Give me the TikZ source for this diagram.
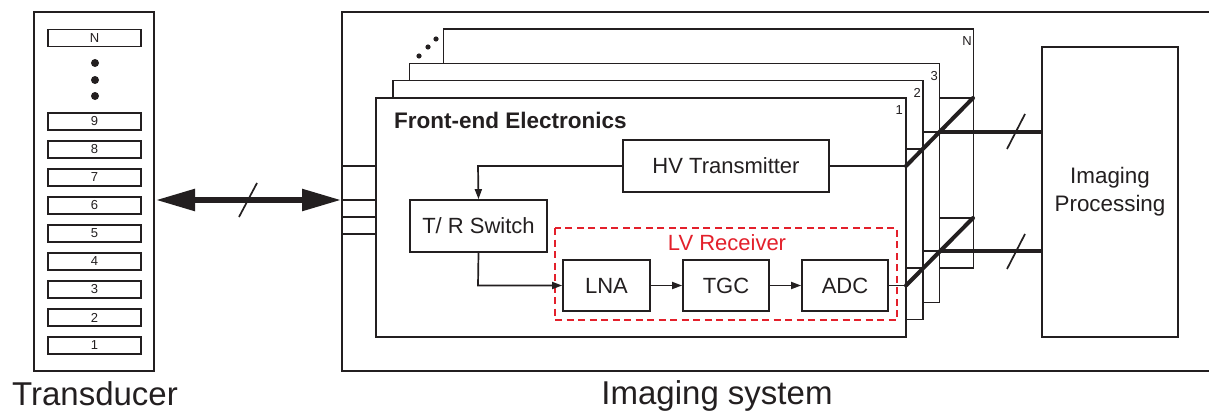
\documentclass[tikz,border=0pt]{standalone}
\usepackage{fontspec}
\setmainfont{Liberation Sans}
\usetikzlibrary{arrows.meta}
\definecolor{ink}{HTML}{231F20}
\definecolor{lvred}{HTML}{E3202B}
\begin{document}
\begin{tikzpicture}[x=1pt,y=-1pt,
  thin line/.style={draw=ink,line width=1.7pt},
  thick line/.style={draw=ink,line width=4pt},
  box/.style={draw=ink,line width=1.7pt,fill=white,inner sep=0pt,
    font=\fontsize{22}{26}\selectfont,text=ink},
  elem/.style={draw=ink,line width=1.7pt,minimum width=93pt,minimum height=17pt,
    inner sep=0pt,font=\fontsize{13}{14}\selectfont,text=ink},
  board/.style={draw=ink,line width=1.7pt,fill=white,minimum width=530pt,
    minimum height=239pt,inner sep=0pt},
  blabel/.style={font=\fontsize{13}{14}\selectfont,text=ink,anchor=north east,inner sep=0pt},
  sig/.style={draw=ink,line width=1.7pt,-{Triangle[length=10pt,width=7pt]}},
  big label/.style={font=\fontsize{33}{38}\selectfont,text=ink,anchor=base,inner sep=0pt}
]
\useasboundingbox (0,0) rectangle (1209,412);
\fill[white] (0,0) rectangle (1209,412);

% Transducer
\node[draw=ink,line width=1.7pt,minimum width=120pt,minimum height=359pt,inner sep=0pt] (trans) at (94,191.5) {};
\node[elem] (eN) at (94.5,38) {N};
\foreach \k in {1,...,9}{
  \node[elem] (e\k) at (94.5,{345.5-28*(\k-1)}) {\k};
}
\foreach \yy in {63,80,96}{ \fill[ink] (95,\yy) circle (4pt); }
\node[big label] (translabel) at (95,405) {Transducer};

% Imaging system
\node[draw=ink,line width=1.7pt,minimum width=868pt,minimum height=359pt,inner sep=0pt] (sys) at (776,191.5) {};
\node[big label] (syslabel) at (717,404) {Imaging system};

% double arrow
\coordinate (aL) at (156,200);
\coordinate (aR) at (341,200);
\draw[draw=ink,line width=5.5pt,{Triangle[length=39pt,width=21pt]}-{Triangle[length=39pt,width=21pt]}] (aL) -- (aR);
\coordinate (s1a) at (239,217); \coordinate (s1b) at (257,183);
\draw[thin line] (s1a) -- (s1b);

% left stubs
\foreach \yy in {166,200,217,234}{ \draw[thin line] (342,\yy) -- (376,\yy); }

% boards
\node[board] (bN) at (708.5,148.5) {};
\node[board] (b3) at (674.5,183) {};
\node[board] (b2) at (658,200) {};
\node[board] (b1) at (641,217.5) {};
\node[blabel] (lN) at (972,36) {N};
\node[blabel] (l3) at (938,71) {3};
\node[blabel] (l2) at (921,88) {2};
\node[blabel] (l1) at (903,105) {1};
\foreach \p in {(419,56),(428,47),(436,39)}{ \fill[ink] \p circle (2.6pt); }

\node[anchor=base west,inner sep=0pt,font=\fontsize{22.5}{26}\selectfont\bfseries,text=ink] (fe) at (394,128) {Front-end Electronics};

% blocks
\node[box,minimum width=206pt,minimum height=52pt] (hv) at (726,166) {HV Transmitter};
\node[box,minimum width=137pt,minimum height=52pt] (tr) at (478.5,226) {T/ R Switch};
\draw[draw=lvred,line width=1.7pt,dash pattern=on 7pt off 4.5pt] (555,228) rectangle (897,320);
\node[font=\fontsize{22}{26}\selectfont,text=lvred,inner sep=0pt] (lv) at (727,243) {LV Receiver};
\node[box,minimum width=87pt,minimum height=51pt] (lna) at (606.5,285.5) {LNA};
\node[box,minimum width=86pt,minimum height=51pt] (tgc) at (726,285.5) {TGC};
\node[box,minimum width=86pt,minimum height=51pt] (adc) at (845,285.5) {ADC};

\draw[sig] (hv.west) -- (478,166) -- (tr.north);
\draw[sig] (tr.south) -- (478,285.5) -- (lna.west);
\draw[sig] (lna.east) -- (tgc.west);
\draw[sig] (tgc.east) -- (adc.west);

% Imaging processing
\node[box,minimum width=136pt,minimum height=290pt,align=center,
  font=\fontsize{22.4}{28}\selectfont] (ip) at (1110,192) {Imaging\\Processing};

% top bus
\draw[thin line] (hv.east) -- (906,166);
\draw[thin line] (906,149) -- (923,149);
\draw[thin line] (923,132) -- (939,132);
\draw[thin line] (939,98) -- (973,98);
\draw[thick line,line cap=round] (906,166) -- (973,98);
\draw[thick line] (939,132) -- (ip.west |- 0,132);
\draw[thin line] (1007,149) -- (1025,114);

% bottom bus
\draw[thin line] (adc.east) -- (906,285.5);
\draw[thin line] (906,268) -- (923,268);
\draw[thin line] (923,251) -- (939,251);
\draw[thin line] (939,218) -- (973,218);
\draw[thick line,line cap=round] (906,285.5) -- (973,218);
\draw[thick line] (939,251) -- (ip.west |- 0,251);
\draw[thin line] (1007,269) -- (1025,234);
\end{tikzpicture}
\end{document}
